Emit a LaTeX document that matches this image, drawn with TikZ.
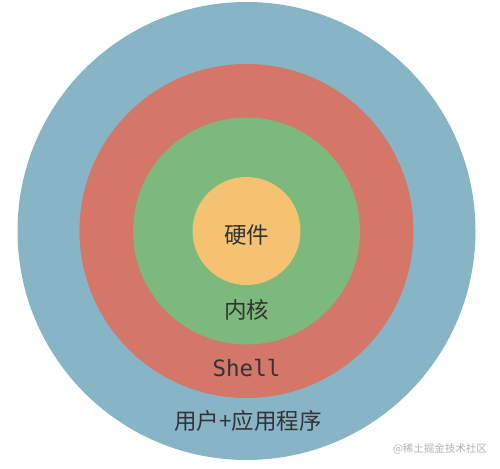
\documentclass[tikz,border=0pt]{standalone}
\usepackage{fontspec}
\setmainfont{Noto Sans CJK SC}
\setmonofont{DejaVu Sans Mono}
\usepackage{tikz}

\definecolor{appblue}{HTML}{87B5C6}
\definecolor{shellred}{HTML}{D47668}
\definecolor{kernelgreen}{HTML}{7DB87C}
\definecolor{hwyellow}{HTML}{F5C272}
\definecolor{labelgray}{HTML}{333333}

\begin{document}
\begin{tikzpicture}[x=1pt,y=-1pt,
	layer/.style={circle,inner sep=0pt,draw=none},
	lbl/.style={text=labelgray,font=\fontsize{22.5}{26}\selectfont}]
	\useasboundingbox (0,0) rectangle (500,468);
	\node[layer, fill=appblue, minimum size=458pt] (app) at (246.5,231) {};
	\node[layer, fill=shellred, minimum size=334pt] (shell) at (246.5,231) {};
	\node[layer, fill=kernelgreen, minimum size=227pt] (kernel) at (246.5,231) {};
	\node[layer, fill=hwyellow, minimum size=108pt] (hw) at (246.5,231) {};
	\node[lbl] (hw_t) at (246.5,235) {硬件};
	\node[lbl] (kernel_t) at (246.5,310) {内核};
	\node[lbl, font=\ttfamily\fontsize{22.5}{26}\selectfont] (shell_t) at (246.5,368) {Shell};
	\node[lbl] (app_t) at (248,421) {用户+应用程序};
	\node[text=gray!60, font=\fontsize{10.5}{12}\selectfont] (mark) at (440,449) {@稀土掘金技术社区};
\end{tikzpicture}
\end{document}
